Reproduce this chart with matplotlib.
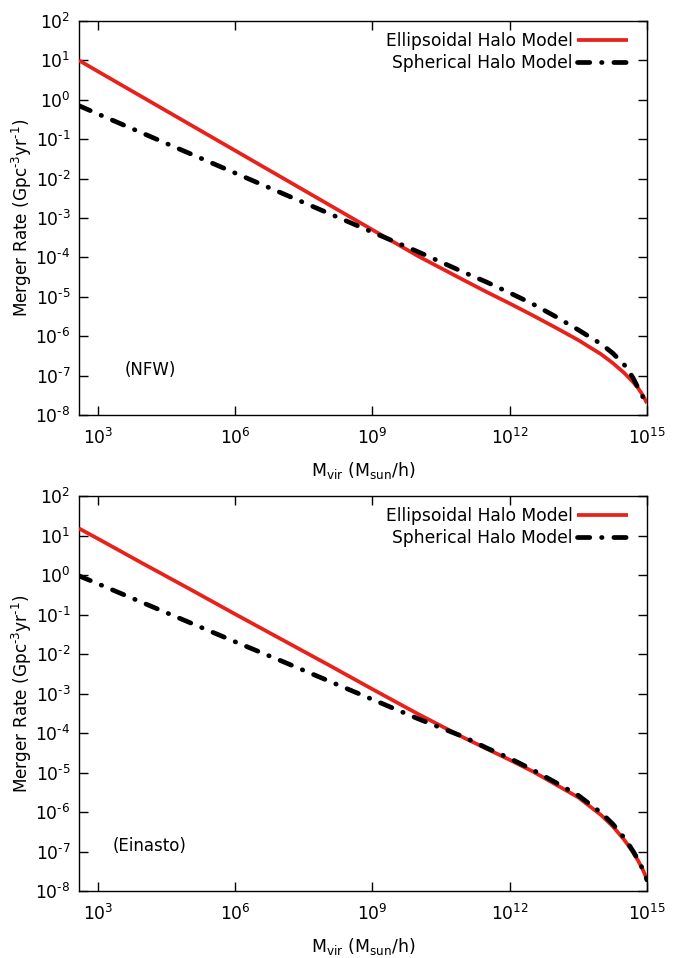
import numpy as np
import matplotlib
matplotlib.use("Agg")
import matplotlib.pyplot as plt
from matplotlib.ticker import FixedLocator, FuncFormatter, NullLocator

plt.rcParams['font.family'] = ['DejaVu Sans']
plt.rcParams['mathtext.fontset'] = 'dejavusans'
plt.rcParams['font.size'] = 12

# Halo virial mass grid (M_sun/h)
mass = [3.85e2, 1e3, 1e4, 1e5, 1e6, 1e7, 1e8, 1e9, 1e10, 1e11, 3.16e11,
        1e12, 3.16e12, 1e13, 3.16e13, 1e14, 1.78e14, 3.16e14, 3.98e14,
        5.01e14, 6.31e14, 7.94e14, 1e15]

# log10 of merger rate (Gpc^-3 yr^-1), NFW profile
nfw_ellipsoidal = [1.00, 0.72, 0.05, -0.62, -1.29, -1.96, -2.63, -3.30, -3.97,
                   -4.58, -4.88, -5.17, -5.47, -5.78, -6.10, -6.46, -6.68,
                   -6.93, -7.05, -7.17, -7.31, -7.48, -7.70]
nfw_spherical = [-0.15, -0.36, -0.86, -1.36, -1.86, -2.36, -2.86, -3.36, -3.86,
                 -4.38, -4.63, -4.90, -5.18, -5.50, -5.84, -6.20, -6.43,
                 -6.72, -6.88, -7.07, -7.30, -7.52, -7.75]

# log10 of merger rate (Gpc^-3 yr^-1), Einasto profile
ein_ellipsoidal = [1.18, 0.92, 0.28, -0.35, -0.99, -1.62, -2.25, -2.89, -3.52,
                   -4.12, -4.40, -4.68, -4.97, -5.30, -5.63, -6.08, -6.36,
                   -6.70, -6.86, -7.03, -7.22, -7.44, -7.70]
ein_spherical = [-0.02, -0.22, -0.71, -1.20, -1.69, -2.17, -2.66, -3.15, -3.64,
                 -4.10, -4.38, -4.64, -4.93, -5.25, -5.58, -6.02, -6.30,
                 -6.65, -6.82, -7.00, -7.20, -7.43, -7.72]

x_ticks = [1e3, 1e6, 1e9, 1e12, 1e15]
y_ticks = [1e-8, 1e-7, 1e-6, 1e-5, 1e-4, 1e-3, 1e-2, 1e-1, 1e0, 1e1, 1e2]
profiles = ["(NFW)", "(Einasto)"]
series_labels = ["Ellipsoidal Halo Model", "Spherical Halo Model"]

RED = "#e8221b"
HYPHEN = "\u2010"


def power_label(value, pos):
    exp = int(round(np.log10(value)))
    return r'$\mathdefault{10^{%s}}$' % str(exp).replace('-', HYPHEN)


fig = plt.figure(figsize=(6.82, 9.58), dpi=100)
ax_top = fig.add_axes([0.1158, 0.5668, 0.8329, 0.4113])
ax_bot = fig.add_axes([0.1158, 0.0699, 0.8329, 0.4123])

panels = [
    (ax_top, nfw_ellipsoidal, nfw_spherical, profiles[0]),
    (ax_bot, ein_ellipsoidal, ein_spherical, profiles[1]),
]

for ax, ell, sph, name in panels:
    m = np.array(mass)
    h1, = ax.plot(m, 10.0 ** np.array(ell), color=RED, lw=2.7,
                  solid_capstyle='butt', solid_joinstyle='round',
                  label=series_labels[0], zorder=3)
    h2, = ax.plot(m, 10.0 ** np.array(sph), color='black', lw=3.4,
                  dashes=(2.6, 2.5, 0.1, 2.5), dash_capstyle='round',
                  dash_joinstyle='round', label=series_labels[1], zorder=4)
    ax.set_xscale('log')
    ax.set_yscale('log')
    ax.set_xlim(mass[0], 1e15)
    ax.set_ylim(1e-8, 1e2)

    ax.xaxis.set_major_locator(FixedLocator(x_ticks))
    ax.yaxis.set_major_locator(FixedLocator(y_ticks))
    ax.xaxis.set_minor_locator(NullLocator())
    ax.yaxis.set_minor_locator(NullLocator())
    ax.xaxis.set_major_formatter(FuncFormatter(power_label))
    ax.yaxis.set_major_formatter(FuncFormatter(power_label))
    ax.tick_params(which='both', direction='in', length=6.5, width=1.0,
                   top=True, right=True, labelsize=12.3)
    ax.tick_params(axis='x', pad=9.5)
    ax.tick_params(axis='y', pad=6)
    for sp in ax.spines.values():
        sp.set_linewidth(1.0)

    ax.set_xlabel(r'M$_{\mathrm{vir}}$ (M$_{\mathrm{sun}}$/h)', fontsize=12.4)
    ax.xaxis.set_label_coords(0.5, -0.14)
    ax.xaxis.label.set_verticalalignment('center')
    ax.set_ylabel('Merger Rate (Gpc$^{%s3}$yr$^{%s1}$)' % (HYPHEN, HYPHEN),
                  fontsize=12.2)
    ax.yaxis.set_label_coords(-0.101, 0.5)
    ax.yaxis.label.set_verticalalignment('center')

    ax.text(0.125, 0.113, name, transform=ax.transAxes, ha='center',
            va='center', fontsize=12)

    ax.legend(handles=[h1, h2], loc='upper right',
              bbox_to_anchor=(0.9665, 0.973), markerfirst=False,
              frameon=False, handlelength=3.0, handletextpad=0.25,
              labelspacing=0.24, borderpad=0, borderaxespad=0, fontsize=12.3)

fig.savefig("out.png", dpi=100)
